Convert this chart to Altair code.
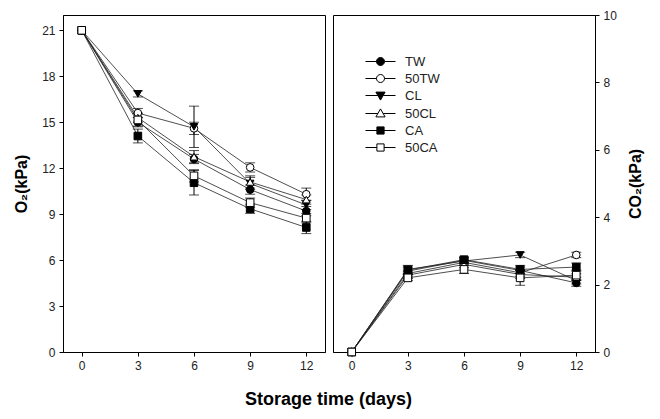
import altair as alt
import pandas as pd

days = [0, 3, 6, 9, 12]
series = ["TW", "50TW", "CL", "50CL", "CA", "50CA"]

# O2 (kPa)
o2_TW   = [21, 15.0, 12.6, 10.6, 9.2]
o2_50TW = [21, 15.6, 14.6, 12.05, 10.3]
o2_CL   = [21, 16.85, 14.7, 11.0, 9.6]
o2_50CL = [21, 15.3, 12.75, 11.1, 9.95]
o2_CA   = [21, 14.1, 11.05, 9.35, 8.13]
o2_50CA = [21, 15.15, 11.5, 9.75, 8.74]
o2_err_TW   = [0, 0.3, 0.3, 0.3, 0.3]
o2_err_50TW = [0, 0.3, 0.4, 0.3, 0.4]
o2_err_CL   = [0, 0.2, 1.35, 0.4, 0.3]
o2_err_50CL = [0, 0.3, 0.4, 0.4, 0.3]
o2_err_CA   = [0, 0.45, 0.8, 0.3, 0.4]
o2_err_50CA = [0, 0.4, 0.4, 0.3, 0.3]

# CO2 (kPa)
co2_TW   = [0, 2.40, 2.72, 2.42, 2.05]
co2_50TW = [0, 2.33, 2.66, 2.35, 2.88]
co2_CL   = [0, 2.45, 2.70, 2.88, 2.12]
co2_50CL = [0, 2.28, 2.60, 2.30, 2.22]
co2_CA   = [0, 2.43, 2.74, 2.45, 2.52]
co2_50CA = [0, 2.20, 2.45, 2.20, 2.28]
co2_err_TW   = [0, 0.10, 0.08, 0.10, 0.10]
co2_err_50TW = [0, 0.10, 0.08, 0.10, 0.08]
co2_err_CL   = [0, 0.12, 0.08, 0.08, 0.10]
co2_err_50CL = [0, 0.10, 0.10, 0.12, 0.10]
co2_err_CA   = [0, 0.12, 0.08, 0.12, 0.12]
co2_err_50CA = [0, 0.08, 0.12, 0.22, 0.15]

o2_vals = [o2_TW, o2_50TW, o2_CL, o2_50CL, o2_CA, o2_50CA]
o2_errs = [o2_err_TW, o2_err_50TW, o2_err_CL, o2_err_50CL, o2_err_CA, o2_err_50CA]
co2_vals = [co2_TW, co2_50TW, co2_CL, co2_50CL, co2_CA, co2_50CA]
co2_errs = [co2_err_TW, co2_err_50TW, co2_err_CL, co2_err_50CL, co2_err_CA, co2_err_50CA]

shapes = ["circle", "circle", "triangle-down", "triangle-up", "square", "square"]
fills = ["black", "white", "black", "white", "black", "white"]

P_CIRC = "M-3.75,0H-1A1,1,0,1,1,1,0H3.75M1,0A1,1,0,1,1,-1,0"
P_SQ = "M-3.75,0H-0.9M-0.9,-0.9H0.9V0.9H-0.9ZM0.9,0H3.75"
P_TD = "M-3.75,0H-0.66M-1.15,-0.85H1.15L0,1.15ZM0.66,0H3.75"
P_TU = "M-3.75,0H-0.66M0,-1.15L1.15,0.85H-1.15ZM0.66,0H3.75"
legend_shapes = [P_CIRC, P_CIRC, P_TD, P_TU, P_SQ, P_SQ]

FONT = "Liberation Sans"


def long_df(vals, errs):
    rows = []
    for k, (s, v, e) in enumerate(zip(series, vals, errs)):
        for d, y, ee in zip(days, v, e):
            rows.append({"day": d, "value": y, "lo": y - ee, "hi": y + ee,
                         "err": ee, "series": s, "k": k})
    return pd.DataFrame(rows)


def panel(vals, errs, ymax, yticks, ytitle, orient, with_legend):
    df = long_df(vals, errs)
    xenc = alt.X("day:Q", scale=alt.Scale(domain=[-1, 13], nice=False),
                 axis=alt.Axis(values=days, title=None, grid=False))
    yscale = alt.Scale(domain=[0, ymax], nice=False)
    yaxis = alt.Axis(values=yticks, title=ytitle, grid=False, orient=orient,
                     titleAngle=270, titleFontSize=16, titleFontWeight="bold",
                     titlePadding=12 if orient == "left" else 27)
    base = alt.Chart(df)
    lines = base.mark_line(color="#222", strokeWidth=0.8).encode(
        x=xenc, y=alt.Y("value:Q", scale=yscale, axis=yaxis),
        detail="series:N")
    eb = base.transform_filter("datum.err > 0")
    rules = eb.mark_rule(color="black", strokeWidth=1).encode(
        x="day:Q", y="lo:Q", y2="hi:Q")
    cap_lo = eb.mark_tick(color="black", thickness=1, size=10,
                          orient="horizontal").encode(x="day:Q", y="lo:Q")
    cap_hi = eb.mark_tick(color="black", thickness=1, size=10,
                          orient="horizontal").encode(x="day:Q", y="hi:Q")
    layers = [lines, rules, cap_lo, cap_hi]
    for s, shp, fl in zip(series, shapes, fills):
        layers.append(
            base.transform_filter(alt.datum.series == s).mark_point(
                filled=True, shape=shp, fill=fl, stroke="black", strokeWidth=1,
                size=58, opacity=1).encode(x="day:Q", y="value:Q"))
    if with_legend:
        ldf = pd.DataFrame({"series": series, "day": [-50] * 6, "value": [-50] * 6})
        leg = alt.Legend(orient="none", legendX=41, legendY=40, title=None,
                         labelFont=FONT, labelFontSize=13, labelColor="#222",
                         symbolSize=64, symbolStrokeColor="black",
                         symbolStrokeWidth=1, symbolOpacity=1, labelOffset=18,
                         rowPadding=3, padding=0)
        dummy = alt.Chart(ldf).mark_point(filled=True, opacity=1,
                                          strokeWidth=1, size=64, clip=True).encode(
            x="day:Q", y="value:Q",
            shape=alt.Shape("series:N", scale=alt.Scale(domain=series, range=legend_shapes), legend=leg),
            fill=alt.Fill("series:N", scale=alt.Scale(domain=series, range=fills), legend=leg),
            stroke=alt.Stroke("series:N", scale=alt.Scale(domain=series, range=["black"] * 6), legend=leg))
        layers.append(dummy)
    return alt.layer(*layers).properties(width=262, height=337)


left = panel(o2_vals, o2_errs, 22, [0, 3, 6, 9, 12, 15, 18, 21], "O₂(kPa)", "left", False)
right = panel(co2_vals, co2_errs, 10, [0, 2, 4, 6, 8, 10], "CO₂(kPa)", "right", True)

chart = alt.hconcat(left, right, spacing=6).resolve_legend(
    shape="independent", fill="independent", stroke="independent"
).properties(
    title=alt.TitleParams("Storage time (days)", orient="bottom", anchor="middle",
                          fontSize=18, fontWeight="bold", font=FONT, color="black",
                          offset=19),
    padding={"left": 5, "top": 0, "right": 5, "bottom": 5}
).configure_view(stroke="black", strokeWidth=1).configure_axis(
    labelFont=FONT, labelFontSize=12, labelColor="#222", titleFont=FONT,
    titleColor="black", tickColor="black", domainColor="black", tickSize=4,
    labelPadding=4, domain=True
)

chart.save("out.html", embed_options={"renderer": "svg", "actions": False})
